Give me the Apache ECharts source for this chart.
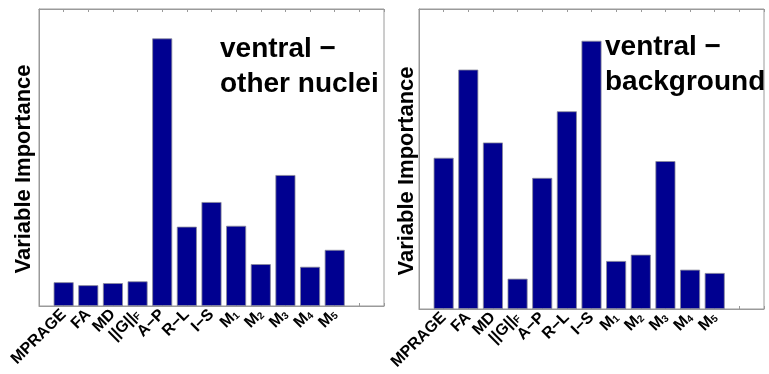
<!DOCTYPE html>
<html>
<head>
<meta charset="utf-8">
<script src="https://cdn.jsdelivr.net/npm/echarts@6/dist/echarts.min.js"></script>
<style>
html,body{margin:0;padding:0;background:#fff;}
#chart{width:769px;height:374px;}
</style>
</head>
<body>
<div id="chart"></div>
<script>
// Categories ("_" marks a subscript)
const categories = ['MPRAGE', 'FA', 'MD', '||G||_F', 'A\u2212P', 'R\u2212L', 'I\u2212S', 'M_1', 'M_2', 'M_3', 'M_4', 'M_5'];
// Variable importance, ventral - other nuclei
const otherNuclei = [0.080, 0.070, 0.077, 0.083, 0.901, 0.267, 0.350, 0.270, 0.141, 0.441, 0.132, 0.189];
// Variable importance, ventral - background
const background = [0.504, 0.798, 0.555, 0.101, 0.437, 0.659, 0.894, 0.160, 0.181, 0.493, 0.131, 0.120];
const titles = ['ventral \u2212\nother nuclei', 'ventral \u2212\nbackground'];
const yLabel = 'Variable Importance';

const FONT = '"Liberation Sans", Arial, sans-serif';
const BAR = '#000090';
const BORDER = '#9a9a9a';

function labelFmt(v) {
  const i = Math.round(v) - 1;
  if (i < 0 || i >= categories.length) return '';
  const parts = categories[i].split('_');
  if (parts.length === 1) return '{b|' + parts[0] + '}';
  return '{b|' + parts[0] + '}{s|' + parts[1] + '}';
}

const rich = {
  b: { fontFamily: FONT, fontWeight: 'bold', fontSize: 16, color: '#000' },
  s: { fontFamily: FONT, fontWeight: 'bold', fontSize: 10, color: '#000', verticalAlign: 'bottom', padding: [6, 0, 0, 0] }
};

const grids = [
  { left: 39, top: 9, width: 345, height: 297, show: true, borderColor: BORDER, borderWidth: 1, backgroundColor: '#fff' },
  { left: 419, top: 9, width: 345, height: 300, show: true, borderColor: BORDER, borderWidth: 1, backgroundColor: '#fff' }
];

const xAxes = [], yAxes = [], series = [];
[otherNuclei, background].forEach((vals, g) => {
  xAxes.push({
    type: 'value', gridIndex: g, min: 0, max: 14, interval: 1, position: 'bottom',
    axisLine: { show: true, lineStyle: { color: BORDER } },
    axisTick: { show: true, inside: true, length: 3, lineStyle: { color: BORDER } },
    splitLine: { show: false },
    axisLabel: { rotate: 45, margin: 6, formatter: labelFmt, rich: rich, hideOverlap: false, showMinLabel: true, showMaxLabel: true }
  });
  xAxes.push({
    type: 'value', gridIndex: g, min: 0, max: 14, interval: 1, position: 'top',
    axisLine: { show: true, lineStyle: { color: BORDER } },
    axisTick: { show: true, inside: true, length: 3, lineStyle: { color: BORDER } },
    axisLabel: { show: false },
    splitLine: { show: false }
  });
  yAxes.push({
    type: 'value', gridIndex: g, min: 0, max: 1,
    axisLine: { show: true, lineStyle: { color: BORDER } },
    axisTick: { show: false }, axisLabel: { show: false }, splitLine: { show: false }
  });
  series.push({
    type: 'bar', xAxisIndex: g * 2, yAxisIndex: g, barWidth: 20,
    data: vals.map((v, i) => [i + 1, v]),
    itemStyle: { color: BAR, borderColor: '#8a8a9a', borderWidth: 0.8 },
    silent: true, animation: false
  });
});

const graphic = [
  { type: 'text', x: 220, y: 32, z: 100, style: { text: titles[0], fontFamily: FONT, fontWeight: 'bold', fontSize: 28, lineHeight: 35, fill: '#000' } },
  { type: 'text', x: 605, y: 30, z: 100, style: { text: titles[1], fontFamily: FONT, fontWeight: 'bold', fontSize: 28, lineHeight: 35, fill: '#000' } },
  { type: 'text', x: 24, y: 169, rotation: Math.PI / 2, z: 100, style: { text: yLabel, fontFamily: FONT, fontWeight: 'bold', fontSize: 22, fill: '#000', textAlign: 'center', textVerticalAlign: 'middle' } },
  { type: 'text', x: 407, y: 171, rotation: Math.PI / 2, z: 100, style: { text: yLabel, fontFamily: FONT, fontWeight: 'bold', fontSize: 22, fill: '#000', textAlign: 'center', textVerticalAlign: 'middle' } }
];

const chart = echarts.init(document.getElementById('chart'), null, { renderer: 'canvas' });
chart.setOption({
  animation: false,
  backgroundColor: '#fff',
  grid: grids,
  xAxis: xAxes,
  yAxis: yAxes,
  series: series,
  graphic: graphic
});
</script>
</body>
</html>
